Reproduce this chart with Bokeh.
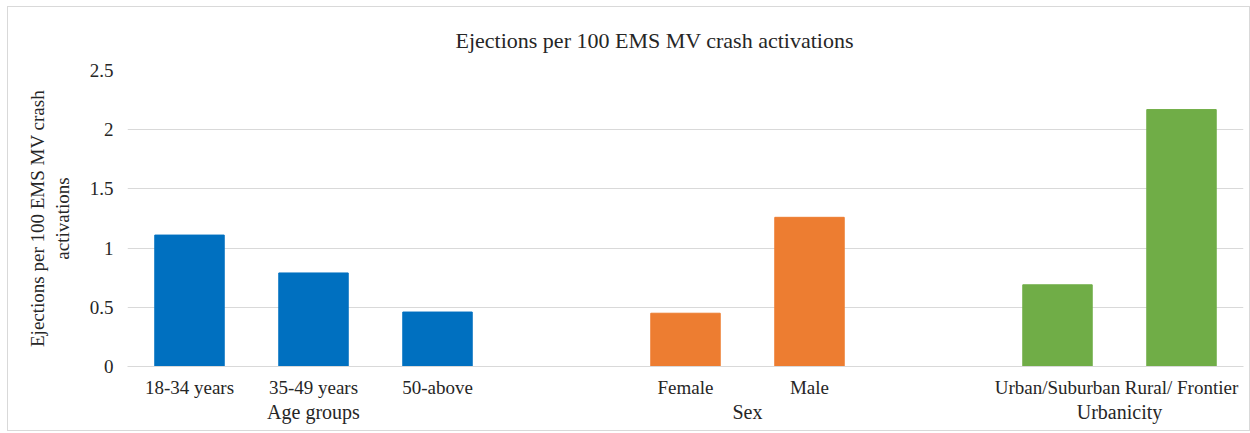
from bokeh.plotting import figure
from bokeh.models import ColumnDataSource, FixedTicker, LinearAxis, Range1d
from bokeh.embed import file_html
from bokeh.resources import INLINE

title_text = "Ejections per 100 EMS MV crash activations"
y_label = "Ejections per 100 EMS MV crash\nactivations"

age_labels = ["18-34 years", "35-49 years", "50-above"]
age_values = [1.11, 0.79, 0.46]
sex_labels = ["Female", "Male"]
sex_values = [0.45, 1.26]
urb_labels = ["Urban/Suburban", "Rural/ Frontier"]
urb_values = [0.69, 2.17]

group_names = ["Age groups", "Sex", "Urbanicity"]
group_colors = ["#0070C0", "#ED7D31", "#70AD47"]
y_ticks = [0, 0.5, 1, 1.5, 2, 2.5]

FONT = "Liberation Serif"
GRID = "#d9d9d9"
TXT = "#262626"

groups = [(age_labels, age_values), (sex_labels, sex_values), (urb_labels, urb_values)]

xs, tops, colors, tick_pos, tick_lab, grp_pos = [], [], [], [], [], []
slot = 0
for gi, (labs, vals) in enumerate(groups):
    start = slot
    for lab, v in zip(labs, vals):
        xs.append(slot)
        tops.append(v)
        colors.append(group_colors[gi])
        tick_pos.append(slot)
        tick_lab.append(lab)
        slot += 1
    grp_pos.append((start + slot - 1) / 2)
    slot += 1  # blank slot between groups
n_slots = slot - 1

src = ColumnDataSource(dict(x=xs, top=tops, color=colors))

p = figure(width=1243, height=425, margin=(6, 0, 0, 7),
           x_range=Range1d(-0.5, n_slots - 0.5), y_range=Range1d(0, 2.5),
           output_backend="svg", toolbar_location=None, x_axis_location=None,
           min_border_left=119, min_border_right=8, min_border_top=63, min_border_bottom=66,
           styles={"border": "1px solid #d9d9d9", "box-sizing": "border-box"})
p.outline_line_color = None
p.background_fill_color = "white"
p.border_fill_color = "white"

p.title.text = title_text
p.title.align = "left"
p.title.offset = 328
p.title.text_font = FONT
p.title.text_font_size = "22px"
p.title.text_font_style = "normal"
p.title.text_color = TXT
p.title.standoff = 35

p.vbar(x="x", top="top", width=0.56, color="color", source=src)

# Axes
p.yaxis.ticker = FixedTicker(ticks=y_ticks)
p.yaxis.major_label_overrides = {0: "0", 0.5: "0.5", 1: "1", 1.5: "1.5", 2: "2", 2.5: "2.5"}
p.yaxis.axis_line_color = None
p.yaxis.major_tick_line_color = None
p.yaxis.minor_tick_line_color = None
p.yaxis.major_label_text_font = FONT
p.yaxis.major_label_text_font_size = "19px"
p.yaxis.major_label_text_color = TXT
p.yaxis.major_label_standoff = 8
p.yaxis.axis_label = y_label
p.yaxis.axis_label_text_font = FONT
p.yaxis.axis_label_text_font_size = "19px"
p.yaxis.axis_label_text_font_style = "normal"
p.yaxis.axis_label_text_color = TXT
p.yaxis.axis_label_standoff = 14

cat_axis = LinearAxis(ticker=FixedTicker(ticks=tick_pos),
                      major_label_overrides={pos: lab for pos, lab in zip(tick_pos, tick_lab)})
grp_axis = LinearAxis(ticker=FixedTicker(ticks=grp_pos),
                      major_label_overrides={pos: lab for pos, lab in zip(grp_pos, group_names)})
for ax in (cat_axis, grp_axis):
    ax.axis_line_color = None
    ax.major_tick_line_color = None
    ax.minor_tick_line_color = None
    ax.major_label_text_font = FONT
    ax.major_label_text_color = TXT
cat_axis.major_label_text_font_size = "19px"
grp_axis.major_label_text_font_size = "20px"
cat_axis.axis_line_color = GRID
cat_axis.major_label_standoff = 4
grp_axis.major_label_standoff = -6
p.add_layout(cat_axis, "below")
p.add_layout(grp_axis, "below")

p.xgrid.grid_line_color = None
p.ygrid.ticker = FixedTicker(ticks=y_ticks)
p.ygrid.grid_line_color = GRID

open("out.html", "w").write(file_html(p, INLINE))
